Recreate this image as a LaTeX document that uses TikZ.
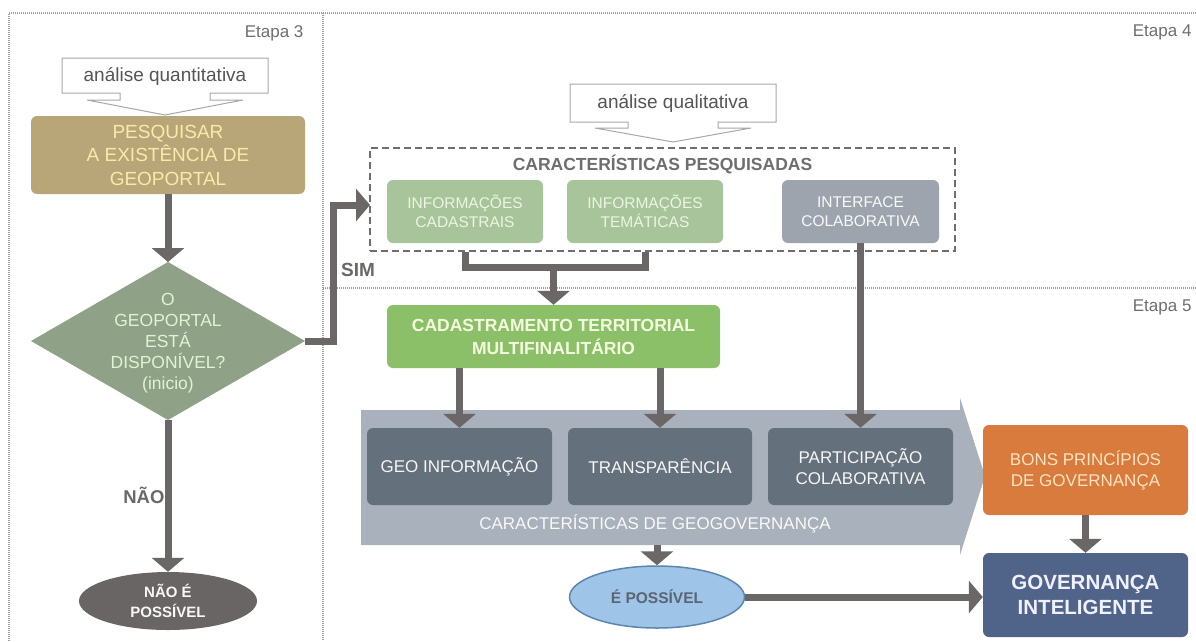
\documentclass[tikz,border=0pt]{standalone}
\usepackage{fontspec}
\setmainfont{Liberation Sans}
\usetikzlibrary{arrows.meta,shapes.geometric}
\definecolor{framegray}{HTML}{A0A0A0}
\definecolor{etapagray}{HTML}{6E6E6E}
\definecolor{arrowgray}{HTML}{6B6767}
\definecolor{tan}{HTML}{B8A679}
\definecolor{tantext}{HTML}{F8EBA8}
\definecolor{sage}{HTML}{8FA287}
\definecolor{sagetext}{HTML}{E2F3D0}
\definecolor{nogray}{HTML}{6A6565}
\definecolor{lgreen}{HTML}{A8C49A}
\definecolor{lgreentext}{HTML}{EBF6E2}
\definecolor{ifgray}{HTML}{9DA4AE}
\definecolor{cadgreen}{HTML}{8CC068}
\definecolor{cadtext}{HTML}{F4FAE0}
\definecolor{chevron}{HTML}{A9B1BC}
\definecolor{slate}{HTML}{65707D}
\definecolor{orange}{HTML}{D97B3C}
\definecolor{orangetext}{HTML}{FCE4C4}
\definecolor{govblue}{HTML}{50648A}
\definecolor{lblue}{HTML}{9EC5E8}
\definecolor{lblueline}{HTML}{5E84B0}
\definecolor{ltext}{HTML}{5A6474}
\definecolor{callline}{HTML}{A8A8A8}
\definecolor{calltext}{HTML}{555555}
\begin{document}
\begin{tikzpicture}[x=1pt,y=-1pt,
  frameline/.style={draw=framegray, line width=1.5pt, dash pattern=on 1pt off 1pt},
  conn/.style={draw=arrowgray, line width=7pt, -{Triangle[width=32pt,length=14pt]}},
  plainline/.style={draw=arrowgray, line width=7pt},
  box/.style={rounded corners=6pt, inner sep=0pt, align=center},
  etapa/.style={text=etapagray, font=\fontsize{17}{20}\selectfont},
  callout/.style={draw=callline, line width=1pt, fill=white},
  calltxt/.style={text=calltext, font=\fontsize{19}{23}\selectfont},
  f17/.style={font=\fontsize{17}{21}\selectfont},
  f155/.style={font=\fontsize{15.5}{19}\selectfont}
]
\useasboundingbox (0,0) rectangle (1196,641);
\clip (0,0) rectangle (1196,641);
\fill[white] (0,0) rectangle (1196,641);

% frame
\draw[frameline] (9,641) -- (9,13) -- (1196,13);
\draw[frameline] (323,13) -- (323,641);
\draw[frameline] (323,288) -- (1196,288);

\node[etapa, anchor=east] (e3) at (307,33) {Etapa 3};
\node[etapa, anchor=east] (e4) at (1195,32) {Etapa 4};
\node[etapa, anchor=east] (e5) at (1195,307) {Etapa 5};

% quantitative callout
\draw[callout] (62,58) -- (268,58) -- (268,93) -- (210,93) -- (210,100) -- (243,100)
  -- (165,115) -- (87,100) -- (120,100) -- (120,93) -- (62,93) -- cycle;
\node[calltxt] (quant) at (165,76) {análise quantitativa};

% pesquisar
\node[box, fill=tan, text=tantext, minimum width=274pt, minimum height=78pt,
  font=\fontsize{19}{23.5}\selectfont] (pesq0) at (168,155)
  {PESQUISAR\\A EXISTÊNCIA DE\\GEOPORTAL};

% diamond
\node[diamond, fill=sage, minimum width=274pt, minimum height=158pt, inner sep=0pt,
  outer sep=0pt] (dia) at (168,341) {};
\node[text=sagetext, align=center, font=\fontsize{17.5}{21}\selectfont] (diat) at (168,343)
  {O\\GEOPORTAL\\ESTÁ\\DISPONÍVEL?\\(inicio)};

% nao possivel
\node[ellipse, fill=nogray, text=white!94!gray, minimum width=178pt, minimum height=58pt,
  inner sep=0pt, align=center, font=\bfseries\fontsize{15}{19.5}\selectfont] (nao) at (168,601)
  {NÃO É\\POSSÍVEL};

\draw[conn] (pesq0.south) -- (dia.north);
\draw[conn] (dia.south) -- (nao.north);
\node[anchor=east, text=arrowgray, font=\bfseries\fontsize{18.5}{21}\selectfont] (naolbl) at (168,495) {NÃO};

% qualitative callout
\draw[callout] (570,84) -- (776,84) -- (776,122) -- (718,122) -- (718,128) -- (751,128)
  -- (673,142) -- (595,128) -- (628,128) -- (628,122) -- (570,122) -- cycle;
\node[calltxt] (qual) at (673,103) {análise qualitativa};

% dashed box
\node[draw=etapagray, line width=2.5pt, dash pattern=on 7pt off 4pt, minimum width=585pt,
  minimum height=103pt, inner sep=0pt] (pesq) at (662.5,199.5) {};
\node[text=etapagray, font=\bfseries\fontsize{17.5}{21}\selectfont] (pesqt) at (662.5,164)
  {CARACTERÍSTICAS PESQUISADAS};

\node[box, fill=lgreen, text=lgreentext, f155, minimum width=156pt, minimum height=63pt]
  (icad) at (465,211.5) {INFORMAÇÕES\\CADASTRAIS};
\node[box, fill=lgreen, text=lgreentext, f155, minimum width=156pt, minimum height=63pt]
  (item) at (645,211.5) {INFORMAÇÕES\\TEMÁTICAS};
\node[box, fill=ifgray, text=white!95!gray, f155, minimum width=157pt, minimum height=63pt]
  (iint) at (860.5,211.5) {INTERFACE\\COLABORATIVA};

% SIM connector
\coordinate (simin) at (370,205);
\draw[conn] (dia.east) -- ++(28,0) |- (simin);
\node[text=arrowgray, font=\bfseries\fontsize{19}{22}\selectfont] (sim) at (358,270) {SIM};

% cadastramento
\node[box, fill=cadgreen, text=cadtext, minimum width=333pt, minimum height=63pt,
  font=\bfseries\fontsize{17.5}{23}\selectfont] (cad) at (553.5,336.5)
  {CADASTRAMENTO TERRITORIAL\\MULTIFINALITÁRIO};

\coordinate (brk) at (553.5,267);
\draw[plainline] (icad.south |- pesq.south) -- (icad.south |- brk) -- (item.south |- brk) -- (item.south |- pesq.south);
\draw[conn] (brk) -- (cad.north);

% chevron
\fill[chevron] (361,410) -- (960,410) -- (960,398) -- (985,476) -- (960,555) -- (960,545)
  -- (361,545) -- cycle;
\node[box, fill=slate, text=white!93!gray, f17, minimum width=185pt, minimum height=77pt]
  (geo) at (459.5,466.5) {GEO INFORMAÇÃO};
\node[box, fill=slate, text=white!93!gray, f17, minimum width=184pt, minimum height=77pt]
  (trans) at (660,466.5) {TRANSPARÊNCIA};
\node[box, fill=slate, text=white!93!gray, f17, minimum width=185pt, minimum height=77pt]
  (part) at (860.5,466.5) {PARTICIPAÇÃO\\COLABORATIVA};
\node[text=white!95!gray, f17] (cgeo) at (655,524) {CARACTERÍSTICAS DE GEOGOVERNANÇA};

\draw[conn] (geo.north |- cad.south) -- (geo.north);
\draw[conn] (trans.north |- cad.south) -- (trans.north);
\draw[conn] (iint.south) -- (part.north);

% bottom right
\node[box, fill=orange, text=orangetext, minimum width=205pt, minimum height=90pt,
  font=\fontsize{17}{21}\selectfont] (bons) at (1085.5,470) {BONS PRINCÍPIOS\\DE GOVERNANÇA};
\node[box, fill=govblue, text=white!94!blue, minimum width=205pt, minimum height=84pt,
  font=\bfseries\fontsize{20.5}{25}\selectfont] (gov) at (1085.5,595) {GOVERNANÇA\\INTELIGENTE};
\node[ellipse, fill=lblue, draw=lblueline, line width=1.5pt, text=ltext, minimum width=175pt,
  minimum height=62pt, inner sep=0pt, font=\bfseries\fontsize{15.5}{19}\selectfont] (epos) at (657,597)
  {É POSSÍVEL};

\coordinate (chevb) at (657,545);
\draw[conn] (chevb) -- (epos.north);
\draw[conn] (bons.south) -- (gov.north);
\draw[conn] (epos.east) -- (epos.east -| gov.west);
\end{tikzpicture}
\end{document}
